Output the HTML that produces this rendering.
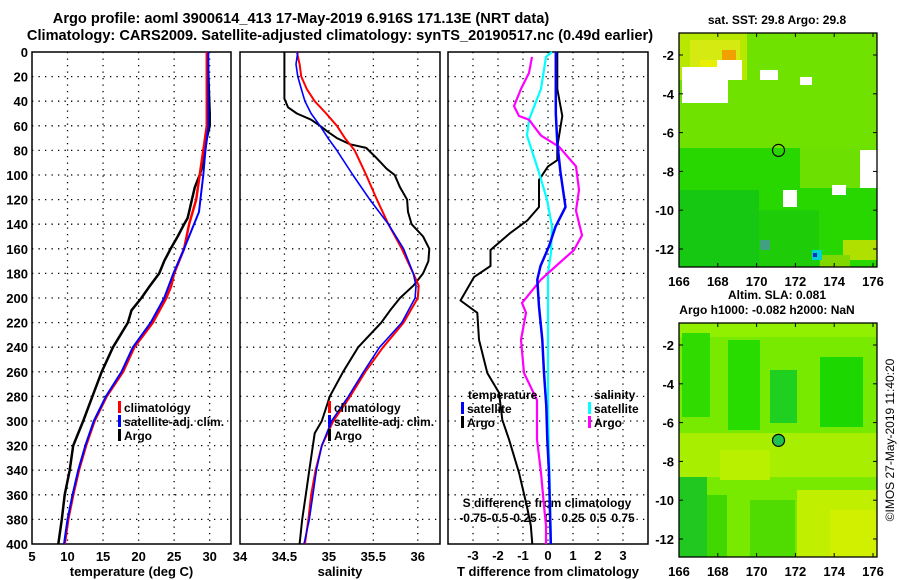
<!DOCTYPE html>
<html><head><meta charset="utf-8"><style>
body{margin:0;background:#fff;}
svg{display:block;font-family:"Liberation Sans",sans-serif;font-weight:bold;}
</style></head><body>
<svg id="c" width="900" height="580" viewBox="0 0 900 580">
<text x="301" y="23" font-size="14.6" text-anchor="middle">Argo profile: aoml 3900614_413 17-May-2019 6.916S 171.13E (NRT data)</text>
<text x="340" y="40" font-size="14.6" text-anchor="middle">Climatology: CARS2009. Satellite-adjusted climatology: synTS_20190517.nc (0.49d earlier)</text>
<g id="g"></g>
</svg>
<script>
// ---- data ----
const depthTicks=[0,20,40,60,80,100,120,140,160,180,200,220,240,260,280,300,320,340,360,380,400];
const tTicks=[5,10,15,20,25,30];
const sTicks=[34,34.5,35,35.5,36];
const tdTicks=[-3,-2,-1,0,1,2,3];
const sdTicks=[-0.75,-0.5,-0.25,0,0.25,0.5,0.75];
const sdLabels=["-0.75","-0.5","-0.25","0","0.25","0.5","0.75"];
const lonTicks=[166,168,170,172,174,176];
const latTicks=[-2,-4,-6,-8,-10,-12];

const tClimD=[0,60,80,100,120,140,160,180,190,200,220,240,260,280,300,320,340,360,380,400];
const tClimV=[29.6,29.6,29.1,28.6,28.1,27.1,26.4,25.0,24.6,23.9,22.0,19.4,17.8,15.5,13.8,12.6,11.6,10.8,10.1,9.6];
const tSatD=[0,60,80,100,120,130,140,160,180,200,220,240,260,280,300,320,340,360,380,400];
const tSatV=[29.8,29.8,29.4,29.1,28.7,28.5,27.8,26.4,24.9,23.6,21.7,19.2,17.6,15.4,13.7,12.5,11.5,10.7,10.0,9.5];
const tArgoD=[0,50,60,70,90,100,110,120,130,135,140,150,160,170,180,190,200,210,220,240,260,280,300,320,340,360,380,400];
const tArgoV=[29.7,30.0,30.0,29.6,29.1,28.6,27.9,27.5,27.1,26.9,26.4,25.5,24.5,23.6,22.9,21.6,20.4,19.0,18.5,16.4,14.8,13.5,12.2,10.8,10.3,9.6,9.2,8.7];

const sClimD=[0,10,20,30,40,50,60,70,80,100,120,140,160,180,190,200,220,240,260,280,300,320,340,360,380,400];
const sClimV=[34.64,34.67,34.69,34.75,34.84,34.97,35.09,35.18,35.29,35.42,35.54,35.67,35.82,35.95,36.01,36.0,35.84,35.61,35.41,35.24,35.05,34.92,34.85,34.80,34.77,34.73];
const sSatD=[0,10,20,30,40,50,60,70,80,100,120,140,160,180,190,200,220,240,260,280,300,320,340,360,380,400];
const sSatV=[34.65,34.63,34.65,34.69,34.73,34.80,34.90,34.99,35.09,35.27,35.46,35.67,35.84,35.95,35.98,35.97,35.82,35.57,35.39,35.22,35.03,34.92,34.86,34.82,34.78,34.72];
const sArgoD=[0,38,45,50,55,60,65,70,75,78,85,95,100,110,120,130,140,150,160,170,180,190,200,210,220,240,260,280,300,310,320,340,360,380,400];
const sArgoV=[34.50,34.50,34.54,34.64,34.80,34.90,34.99,35.09,35.24,35.42,35.52,35.65,35.74,35.80,35.88,35.89,35.93,36.06,36.13,36.12,36.06,35.95,35.80,35.69,35.59,35.33,35.16,35.01,34.92,34.84,34.82,34.78,34.74,34.70,34.67];

const dtSatD=[0,50,74,98,126,142,158,174,185,207,234,261,288,315,342,400];
const dtSatV=[0.31,0.31,0.37,0.5,0.7,0.3,0.04,-0.3,-0.43,-0.36,-0.23,-0.16,-0.07,-0.03,0.04,0.11];
const dtArgoD=[0,30,52,61,77,88,93,104,126,137,147,161,174,183,202,212,234,261,277,299,315,342,369,385,400];
const dtArgoV=[0.37,0.37,0.57,0.5,0.37,0.37,0.0,-0.36,-0.36,-0.83,-1.5,-2.3,-2.3,-2.96,-3.5,-2.83,-2.76,-2.43,-1.96,-1.83,-1.56,-1.16,-0.85,-0.69,-0.63];
const dsSatD=[0,4,30,55,68,98,120,142,163,180,210,290,400];
const dsSatV=[0.04,-0.02,-0.07,-0.19,-0.21,-0.09,-0.01,0.04,0.03,0.0,0.0,0.0,0.03];
const dsArgoD=[4,17,30,44,52,55,68,77,93,112,129,149,161,174,185,204,212,234,261,283,315,342,369,385,400];
const dsArgoV=[-0.16,-0.19,-0.27,-0.34,-0.29,-0.19,-0.07,0.11,0.28,0.31,0.28,0.34,0.26,0.08,-0.07,-0.26,-0.22,-0.27,-0.24,-0.11,-0.11,-0.07,-0.04,-0.02,-0.02];

// ---- helpers ----
const NS="http://www.w3.org/2000/svg";
const G=document.getElementById('g');
function el(tag,attrs,parent){const e=document.createElementNS(NS,tag);for(const k in attrs)e.setAttribute(k,attrs[k]);(parent||G).appendChild(e);return e;}
function txt(x,y,s,size,anchor,parent){const e=el('text',{x:x,y:y,'font-size':size,'text-anchor':anchor||'middle'},parent);e.textContent=s;return e;}
const yTop=52,yBot=544;
function yD(d){return yTop+d*(yBot-yTop)/400;}

const panels=[
 {name:'temperature-panel',x0:32,x1:231,v0:5,v1:33,ticks:tTicks,labels:tTicks.map(String),xtitle:'temperature (deg C)'},
 {name:'salinity-panel',x0:240,x1:440,v0:34,v1:36.25,ticks:sTicks,labels:sTicks.map(String),xtitle:'salinity'},
 {name:'difference-panel',x0:448,x1:648,v0:-4,v1:4,ticks:tdTicks,labels:tdTicks.map(String),xtitle:'T difference from climatology'}
];
function sx(p,v){return p.x0+(v-p.v0)*(p.x1-p.x0)/(p.v1-p.v0);}

panels.forEach((p,i)=>{
  const g=el('g',{});
  
  
  depthTicks.forEach(d=>{
    if(d>0&&d<400){
      const l=el('line',{x1:p.x0,x2:p.x1,y1:yD(d),y2:yD(d),stroke:'#000','stroke-width':1.3,'stroke-dasharray':'1.3 5.2'},g);
      
      
    }
  });
  p.ticks.forEach((t,k)=>{
    const x=sx(p,t);
    if(x>p.x0+1&&x<p.x1-1){
      const l=el('line',{x1:x,x2:x,y1:yTop,y2:yBot,stroke:'#000','stroke-width':1.3,'stroke-dasharray':'1.3 5.2'},g);
      
      
    }
    const tl=txt(x,i==2?560:561,p.labels[k],13,'middle',g);
    
    
  });
  const r=el('rect',{x:p.x0,y:yTop,width:p.x1-p.x0,height:yBot-yTop,fill:'none',stroke:'#000','stroke-width':1.5},g);
  
  
  const xt=txt((p.x0+p.x1)/2,576,p.xtitle,13,'middle',g);
  
  
});
depthTicks.forEach(d=>{
  const t=txt(28,yD(d)+5,String(d),13,'end');
  
  
});
const p3=panels[2];
sdTicks.forEach((s,k)=>{
  const t=txt(sx(p3,s*4),522,sdLabels[k],12,'middle');
  
  
});
const sdt=txt(547,507,'S difference from climatology',12,'middle');



function line(p,D,V,color,w,name,scale){
  const pts=D.map((d,k)=>sx(p,V[k]*(scale||1)).toFixed(1)+','+yD(d).toFixed(1)).join(' ');
  const l=el('polyline',{points:pts,fill:'none',stroke:color,'stroke-width':w,'stroke-linejoin':'round'});
  
  
}
line(panels[0],tArgoD,tArgoV,'#000',2.5,'temperature-argo-line');
line(panels[0],tClimD,tClimV,'#f00',2.5,'temperature-climatology-line');
line(panels[0],tSatD,tSatV,'#00f',2,'temperature-satellite-line');
line(panels[1],sArgoD,sArgoV,'#000',2,'salinity-argo-line');
line(panels[1],sClimD,sClimV,'#f00',2,'salinity-climatology-line');
line(panels[1],sSatD,sSatV,'#00f',1.6,'salinity-satellite-line');
line(p3,dtArgoD,dtArgoV,'#000',2,'t-diff-argo-line');
line(p3,dsSatD,dsSatV,'#0ff',2.2,'s-diff-satellite-line',4);
line(p3,dsArgoD,dsArgoV,'#f0f',2.2,'s-diff-argo-line',4);
line(p3,dtSatD,dtSatV,'#00f',2.5,'t-diff-satellite-line');

function legend(x,y,items){
  items.forEach((it,k)=>{
    const yy=y+k*14;
    const m=el('rect',{x:x,y:yy-11,width:3,height:12,fill:it[1]});
    
    
    const t=txt(x+6,yy,it[0],12,'start');
    
    
  });
}
legend(118,412,[['climatology','#f00'],['satellite-adj. clim.','#00f'],['Argo','#000']]);
legend(328,412,[['climatology','#f00'],['satellite-adj. clim.','#00f'],['Argo','#000']]);
const lt1=txt(468,399,'temperature',12,'start');
const lt2=txt(594,399,'salinity',12,'start');
legend(461,413,[['satellite','#00f'],['Argo','#000']]);
legend(588,413,[['satellite','#0ff'],['Argo','#f0f']]);

// ---- maps (patches in absolute pixel coords: x, y, w, h, colour) ----
function map(y0,title,title2,patches,name,dotFill){
  const mx0=679,mx1=877,my1=y0+234;
  const g=el('g',{});
  
  
  const lon=v=>679+(v-166)*19.4, lat=v=>(y0+22)+(-2-v)*19.4;
  patches.forEach(pt=>{
    const r=el('rect',{x:pt[0],y:pt[1],width:pt[2],height:pt[3],fill:pt[4]},g);
    
    
  });
  const c=el('circle',{cx:lon(171.13),cy:lat(-6.916),r:6,fill:dotFill,stroke:'#000','stroke-width':1.2},g);
  
  
  const f=el('rect',{x:mx0,y:y0,width:mx1-mx0,height:234,fill:'none',stroke:'#000','stroke-width':1.3},g);
  
  
  lonTicks.forEach(v=>{
    el('line',{x1:lon(v),x2:lon(v),y1:my1,y2:my1-4,stroke:'#000'},g);
    el('line',{x1:lon(v),x2:lon(v),y1:y0,y2:y0+4,stroke:'#000'},g);
    const t=txt(lon(v),my1+19,String(v),13,'middle',g);
    
    
  });
  latTicks.forEach(v=>{
    el('line',{x1:mx0,x2:mx0+4,y1:lat(v),y2:lat(v),stroke:'#000'},g);
    el('line',{x1:mx1,x2:mx1-4,y1:lat(v),y2:lat(v),stroke:'#000'},g);
    const t=txt(674,lat(v)+5,String(v),13,'end',g);
    
    
  });
  if(title2){
    const t=txt(777,y0-24,title,12,'middle',g);
    const t2=txt(767,y0-9,title2,12,'middle',g);
  } else {
    const t=txt(777,y0-9,title,12,'middle',g);
  }
}
map(33,'sat. SST: 29.8 Argo: 29.8',null,[
 [679,33,198,234,'#28d600'],
 [679,33,198,115,'#70e200'],
 [800,148,77,40,'#6ce000'],
 [679,190,80,77,'#16c812'],
 [759,210,60,57,'#1ecc08'],
 [679,33,68,47,'#b8e800'],
 [690,40,50,28,'#d4ea10'],
 [722,50,14,10,'#f0a000'],
 [700,60,20,10,'#e8f000'],
 [682,67,46,36,'#fff'],[717,60,25,20,'#fff'],
 [760,70,18,10,'#fff'],[800,77,12,8,'#fff'],
 [860,150,17,38,'#fff'],[783,190,14,17,'#fff'],[832,185,14,10,'#fff'],
 [843,240,34,20,'#b0e000'],[820,255,30,12,'#80d800'],
 [812,250,10,10,'#00d0d0'],[813,253,4,4,'#0030c0'],
 [760,240,10,10,'#40a080']
],'sst-map','none');
map(323,'Altim. SLA: 0.081','Argo h1000: -0.082 h2000: NaN',[
 [679,323,198,234,'#78ea00'],
 [679,323,198,14,'#90f000'],
 [682,333,28,84,'#30dc00'],
 [728,340,32,90,'#28dc00'],
 [770,370,27,53,'#20d020'],
 [820,357,43,70,'#1cd800'],
 [679,433,198,44,'#a8ee00'],
 [720,450,50,30,'#b8f000'],
 [679,477,28,80,'#20c820'],
 [707,495,20,62,'#40d800'],
 [750,500,45,57,'#50dc00'],
 [797,490,80,67,'#c0f000'],
 [830,510,47,47,'#d0f000']
],'sla-map','#20c050');
const cp=txt(0,0,'\u00a9IMOS 27-May-2019 11:40:20',12,'middle');
cp.setAttribute('transform','translate(894,440) rotate(-90)');
cp.setAttribute('font-weight','normal');


</script>
</body></html>
